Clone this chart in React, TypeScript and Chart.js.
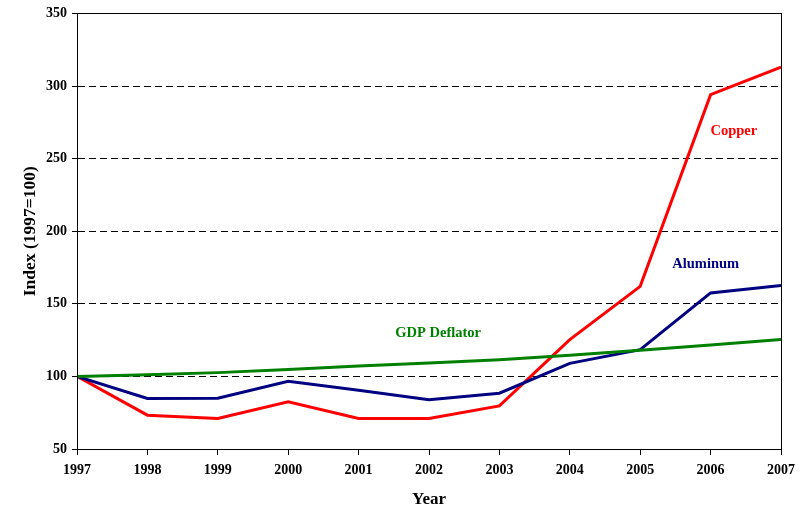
import React, { useEffect, useRef } from "react";
import { Chart, registerables } from "chart.js";

Chart.register(...registerables);

const years = [1997, 1998, 1999, 2000, 2001, 2002, 2003, 2004, 2005, 2006, 2007];
const copper = [100, 73.3, 71, 82.5, 71, 71, 79.7, 125.3, 162, 294, 313];
const aluminum = [100, 84.8, 85, 96.7, 90.5, 84, 88.4, 109, 118.4, 157.5, 162.6];
const gdpDeflator = [100, 101.1, 102.6, 104.8, 107.2, 109.2, 111.5, 114.6, 118, 121.7, 125.4];
const yTicks = [50, 100, 150, 200, 250, 300, 350];

const seriesLabels = ["Copper", "Aluminum", "GDP Deflator"];
const seriesColors = ["#FF0000", "#000080", "#008000"];
const labelAnchors = [
  { x: 2006.33, y: 268.5 },
  { x: 2005.93, y: 177.5 },
  { x: 2002.13, y: 129.5 },
];

const FONT = "'Liberation Serif', 'Times New Roman', serif";

const framePlugin = {
  id: "frame",
  afterDatasetsDraw(chart: any) {
    const { ctx, chartArea } = chart;
    ctx.save();
    ctx.strokeStyle = "#000";
    ctx.lineWidth = 1;
    ctx.setLineDash([]);
    ctx.strokeRect(
      Math.round(chartArea.left) + 0.5,
      Math.round(chartArea.top) + 0.5,
      Math.round(chartArea.right - chartArea.left),
      Math.round(chartArea.bottom - chartArea.top)
    );
    ctx.font = `bold 14.5px ${FONT}`;
    ctx.textAlign = "center";
    ctx.textBaseline = "middle";
    const xs = chart.scales.x;
    const ys = chart.scales.y;
    seriesLabels.forEach((lab, i) => {
      ctx.fillStyle = seriesColors[i];
      ctx.fillText(lab, xs.getPixelForValue(labelAnchors[i].x), ys.getPixelForValue(labelAnchors[i].y));
    });
    ctx.restore();
  },
};

export default function App() {
  const ref = useRef<HTMLCanvasElement | null>(null);
  useEffect(() => {
    if (!ref.current) return;
    const mk = (data: number[], i: number) => ({
      label: seriesLabels[i],
      data: years.map((y, k) => ({ x: y, y: data[k] })),
      borderColor: seriesColors[i],
      backgroundColor: seriesColors[i],
      borderWidth: 3,
      pointRadius: 0,
      tension: 0,
      fill: false,
    });
    const chart = new Chart(ref.current, {
      type: "line",
      data: {
        datasets: [mk(gdpDeflator, 2), mk(aluminum, 1), mk(copper, 0)],
      },
      options: {
        animation: false,
        responsive: false,
        maintainAspectRatio: false,
        layout: { padding: { left: 0, top: 11, right: 23, bottom: 0 } },
        plugins: { legend: { display: false }, tooltip: { enabled: false } },
        scales: {
          x: {
            type: "linear",
            min: 1997,
            max: 2007,
            afterFit: (s: any) => {
              s.height = 61;
            },
            afterBuildTicks: (s: any) => {
              s.ticks = years.map((v) => ({ value: v }));
            },
            ticks: {
              callback: (v: any) => String(v),
              color: "#000",
              font: { family: FONT, size: 14, weight: "bold" },
              maxRotation: 0,
              autoSkip: false,
              padding: 7,
            },
            grid: {
              drawOnChartArea: false,
              drawTicks: true,
              tickLength: 6,
              color: "#000",
            },
            border: { color: "#000", width: 1 },
            title: {
              display: true,
              text: "Year",
              color: "#000",
              font: { family: FONT, size: 17, weight: "bold" },
              padding: { top: 8, bottom: 0 },
            },
          },
          y: {
            type: "linear",
            min: 50,
            max: 350,
            afterFit: (s: any) => {
              s.width = 77;
            },
            afterBuildTicks: (s: any) => {
              s.ticks = yTicks.map((v) => ({ value: v }));
            },
            ticks: {
              color: "#000",
              font: { family: FONT, size: 14, weight: "bold" },
              padding: 5,
            },
            grid: {
              color: "#000",
              lineWidth: 1,
              drawTicks: true,
              tickLength: 5,
            },
            border: { color: "#000", width: 1, dash: [7, 4] },
            title: {
              display: true,
              text: "Index (1997=100)",
              color: "#000",
              font: { family: FONT, size: 17.5, weight: "bold" },
              padding: { top: 20, bottom: 6 },
            },
          },
        },
      },
      plugins: [framePlugin],
    } as any);
    return () => chart.destroy();
  }, []);
  return (
    <div style={{ position: "fixed", left: 0, top: 0, width: 804, height: 510, background: "#fff" }}>
      <canvas ref={ref} width={804} height={510} style={{ width: 804, height: 510 }} />
    </div>
  );
}
